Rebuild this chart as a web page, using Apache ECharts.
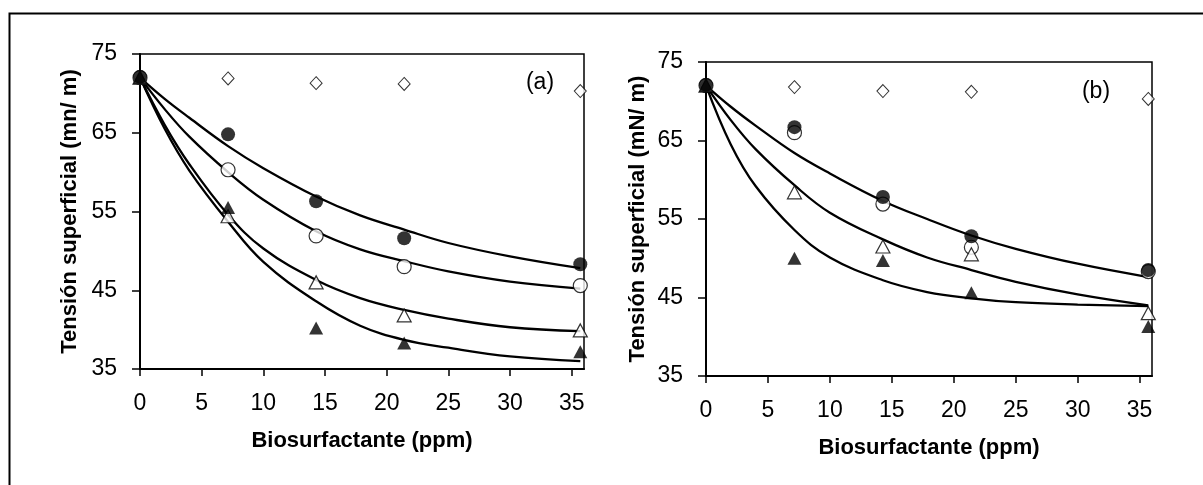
<!DOCTYPE html>
<html>
<head>
<meta charset="utf-8">
<script src="https://cdn.jsdelivr.net/npm/echarts@6/dist/echarts.min.js"></script>
<style>
  html, body { margin: 0; padding: 0; background: #fff; }
  #chart { width: 1203px; height: 485px; }
</style>
</head>
<body>
<div id="chart"></div>
<script>
// Biosurfactant dose (ppm) at which surface tension was measured
const doses = [0, 7.14, 14.28, 21.42, 35.7];
// Dose grid on which the fitted curves are traced
const fitDoses = [0, 2, 4, 7.14, 10, 14.28, 17.85, 21.42, 25, 30, 35.7];
const xTicks = [0, 5, 10, 15, 20, 25, 30, 35];
const yTicks = [35, 45, 55, 65, 75];

// Panel (a): measured surface tension (mN/m)
const aDiamond        = [72.0, 71.9, 71.3, 71.2, 70.3];
const aFilledCircle   = [72.1, 64.8, 56.3, 51.6, 48.3];
const aOpenCircle     = [72.0, 60.3, 51.9, 48.0, 45.6];
const aOpenTriangle   = [72.0, 54.4, 46.0, 41.8, 39.9];
const aFilledTriangle = [72.0, 55.5, 40.2, 38.3, 37.2];
// Panel (a): fitted curves
const aFit1 = [72, 69.3, 66.9, 63.3, 60.5, 56.9, 54.5, 52.7, 51.0, 49.3, 47.8];
const aFit2 = [72, 68.0, 64.5, 60.0, 56.5, 52.5, 50.2, 48.7, 47.4, 46.1, 45.2];
const aFit3 = [72, 66.0, 61.0, 54.6, 50.3, 46.3, 44.0, 42.5, 41.4, 40.3, 39.8];
const aFit4 = [72, 65.5, 60.2, 53.7, 48.6, 43.6, 40.5, 38.7, 37.7, 36.6, 36.0];

// Panel (b): measured surface tension (mN/m)
const bDiamond        = [72.0, 71.8, 71.3, 71.2, 70.3];
const bFilledCircle   = [72.1, 66.7, 57.8, 52.8, 48.5];
const bOpenCircle     = [72.0, 66.0, 56.9, 51.4, 48.3];
const bOpenTriangle   = [72.0, 58.4, 51.5, 50.5, 43.0];
const bFilledTriangle = [72.0, 50.0, 49.7, 45.6, 41.3];
// Panel (b): fitted curves
const bFit1 = [72, 69.3, 66.9, 63.4, 60.8, 57.3, 55.0, 52.9, 51.2, 49.3, 47.6];
const bFit2 = [72, 67.6, 63.9, 59.3, 55.8, 52.4, 50.1, 48.5, 47.0, 45.4, 44.0];
const bFit3 = [72, 64.5, 59.2, 53.6, 50.1, 47.2, 45.7, 44.9, 44.4, 44.1, 43.9];

const FONT = '"Liberation Sans Narrow", "Arial Narrow", "Liberation Sans", Arial, sans-serif';

function pairs(xs, ys) { return xs.map((x, i) => [x, ys[i]]); }

function xAxisFor(gridIndex) {
  return {
    gridIndex, type: 'value', min: 0, max: 36,
    name: 'Biosurfactante (ppm)', nameLocation: 'middle', nameGap: 61,
    nameTextStyle: { fontFamily: FONT, fontWeight: 'bold', fontSize: 22, color: '#000' },
    axisLine: { show: true, onZero: false, lineStyle: { color: '#000', width: 2 } },
    axisTick: { show: true, inside: false, length: 7, customValues: xTicks, lineStyle: { color: '#000', width: 1.5 } },
    axisLabel: { customValues: xTicks, margin: 23, fontFamily: FONT, fontSize: 23, color: '#000' },
    splitLine: { show: false }
  };
}
function yAxisFor(gridIndex, title, gap) {
  return {
    gridIndex, type: 'value', min: 35, max: 75, interval: 10,
    name: title, nameLocation: 'middle', nameGap: gap,
    nameTextStyle: { fontFamily: FONT, fontWeight: 'bold', fontSize: 22, color: '#000' },
    axisLine: { show: true, onZero: false, lineStyle: { color: '#000', width: 2 } },
    axisTick: { show: true, inside: false, length: 8, lineStyle: { color: '#000', width: 1.5 } },
    axisLabel: { margin: 23, fontFamily: FONT, fontSize: 23, color: '#000' },
    splitLine: { show: false }
  };
}

function fitLine(idx, ys) {
  return {
    type: 'line', xAxisIndex: idx, yAxisIndex: idx, data: pairs(fitDoses, ys),
    smooth: 0.4, showSymbol: false, symbol: 'none', z: 2,
    lineStyle: { color: '#000', width: 2.3 }, silent: true
  };
}
const markerStyles = {
  diamond:        { symbol: 'diamond',  symbolSize: [12, 13], itemStyle: { color: '#fff', borderColor: '#000', borderWidth: 1 } },
  openCircle:     { symbol: 'circle',   symbolSize: 14,       itemStyle: { color: '#fff', borderColor: '#000', borderWidth: 1.2 } },
  openTriangle:   { symbol: 'triangle', symbolSize: [14, 13], itemStyle: { color: '#fff', borderColor: '#000', borderWidth: 1.2 } },
  filledTriangle: { symbol: 'triangle', symbolSize: [14, 13], itemStyle: { color: '#000', borderColor: '#000', borderWidth: 0 } },
  filledCircle:   { symbol: 'circle',   symbolSize: 14,       itemStyle: { color: '#000', borderColor: '#000', borderWidth: 0 } }
};
function markers(idx, kind, ys, z) {
  return Object.assign({
    type: 'scatter', xAxisIndex: idx, yAxisIndex: idx, data: pairs(doses, ys), z, silent: true
  }, markerStyles[kind]);
}

const chart = echarts.init(document.getElementById('chart'), null, { renderer: 'canvas' });
chart.setOption({
  animation: false,
  backgroundColor: '#fff',
  grid: [
    { left: 140, top: 54, width: 444, height: 315, show: true, borderColor: '#000', borderWidth: 1.5, backgroundColor: 'transparent' },
    { left: 706, top: 62, width: 446, height: 314, show: true, borderColor: '#000', borderWidth: 1.5, backgroundColor: 'transparent' }
  ],
  xAxis: [xAxisFor(0), xAxisFor(1)],
  yAxis: [yAxisFor(0, 'Tensión superficial (mn/ m)', 59), yAxisFor(1, 'Tensión superficial (mN/ m)', 57)],
  graphic: [
    { type: 'rect', left: 7, top: 11, shape: { width: 1300, height: 600 }, style: { fill: 'none', stroke: '#000', lineWidth: 2 }, silent: true },
    { type: 'text', x: 540, y: 83, style: { text: '(a)', font: '23px ' + FONT, fill: '#000', align: 'center', verticalAlign: 'middle' } },
    { type: 'text', x: 1096, y: 92, style: { text: '(b)', font: '23px ' + FONT, fill: '#000', align: 'center', verticalAlign: 'middle' } }
  ],
  series: [
    fitLine(0, aFit1), fitLine(0, aFit2), fitLine(0, aFit3), fitLine(0, aFit4),
    markers(0, 'diamond', aDiamond, 3),
    markers(0, 'openCircle', aOpenCircle, 4),
    markers(0, 'openTriangle', aOpenTriangle, 5),
    markers(0, 'filledTriangle', aFilledTriangle, 6),
    markers(0, 'filledCircle', aFilledCircle, 7),

    fitLine(1, bFit1), fitLine(1, bFit2), fitLine(1, bFit3),
    markers(1, 'diamond', bDiamond, 3),
    markers(1, 'openCircle', bOpenCircle, 4),
    markers(1, 'openTriangle', bOpenTriangle, 5),
    markers(1, 'filledTriangle', bFilledTriangle, 6),
    markers(1, 'filledCircle', bFilledCircle, 7)
  ]
});
</script>
</body>
</html>
